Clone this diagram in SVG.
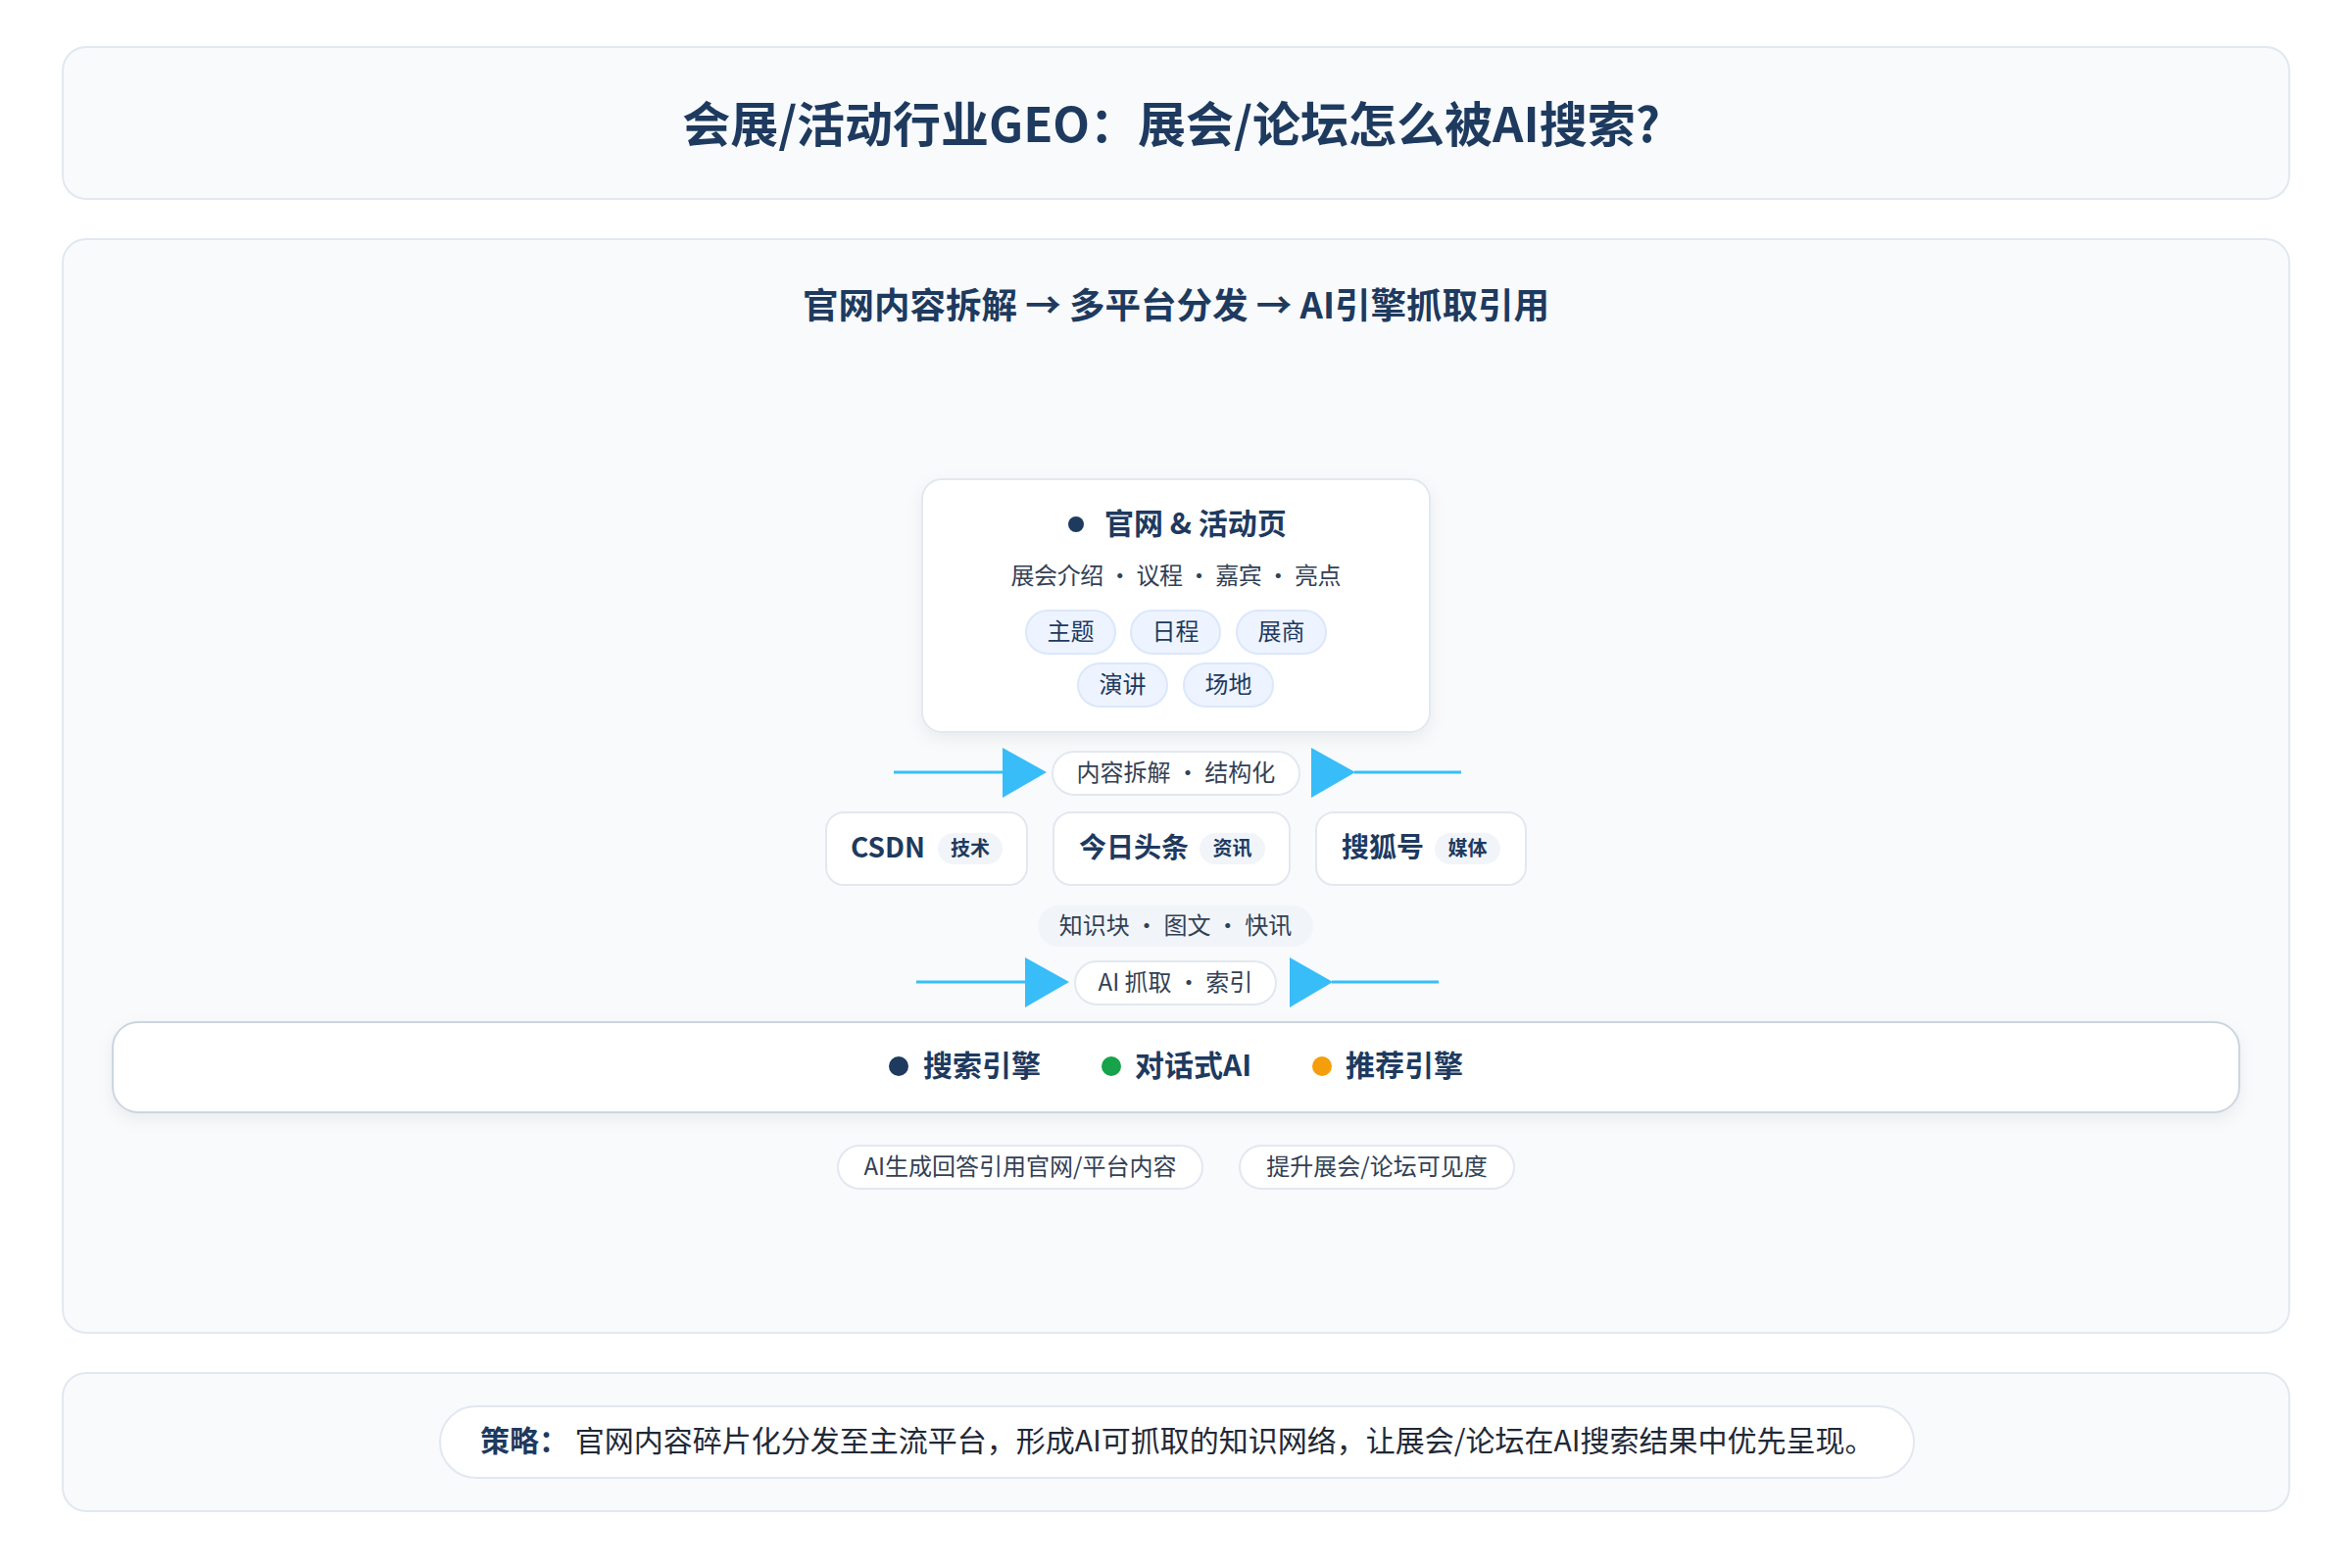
<svg xmlns="http://www.w3.org/2000/svg" width="2400" height="1600" viewBox="0 0 2400 1600">
<defs>
<style>
text{font-family:"Noto Sans CJK SC","Liberation Sans",sans-serif;dominant-baseline:central}
.panel{fill:#f8fafc;stroke:#e2e8f0;stroke-width:2}
.card{fill:#ffffff;stroke:#e2e8f0;stroke-width:2}
.navy{fill:#1e3a5f}
.h1{font-size:49px;font-weight:700;fill:#1e3a5f;text-anchor:middle}
.h2{font-size:36.5px;font-weight:700;fill:#1e3a5f;text-anchor:middle}
.nt{font-size:30px;font-weight:700;fill:#1e3a5f}
.sub{font-size:24px;fill:#334155;text-anchor:middle}
.tag{fill:#eef4ff;stroke:#dbe7fb;stroke-width:2}
.tagt{font-size:24px;fill:#1e3a5f;text-anchor:middle}
.plat{font-size:28px;font-weight:700;fill:#1e3a5f}
.badge{fill:#f1f5f9}
.badget{font-size:20px;font-weight:700;fill:#1e3a5f;text-anchor:middle}
.lbl{fill:#ffffff;stroke:#e2e8f0;stroke-width:2}
.conn line{stroke:#38bdf8;stroke-width:3}
.conn polygon{fill:#38bdf8}
</style>
<filter id="sh" x="-5%" y="-30%" width="110%" height="170%">
<feDropShadow dx="0" dy="6" stdDeviation="8" flood-color="#0f172a" flood-opacity="0.06"/>
</filter>
</defs>
<rect width="2400" height="1600" fill="#ffffff"/>

<g id="title">
<rect class="panel" x="64" y="48" width="2272" height="155" rx="24"/>
<text class="h1" x="1195" y="123">会展/活动行业GEO：展会/论坛怎么被AI搜索?</text>
</g>

<g id="main-panel">
<rect class="panel" x="64" y="244" width="2272" height="1116" rx="24"/>
<text class="h2" x="1200" y="309">官网内容拆解 → 多平台分发 → AI引擎抓取引用</text>
</g>

<g id="connectors" class="conn">
<line x1="912" y1="788" x2="1024" y2="788"/>
<polygon points="1023,763 1068,788 1023,814"/>
<polygon points="1338,763 1383,788 1338,814"/>
<line x1="1382" y1="788" x2="1491" y2="788"/>
<line x1="935" y1="1002" x2="1047" y2="1002"/>
<polygon points="1046,977 1091,1002 1046,1028"/>
<polygon points="1316,977 1360,1002 1316,1028"/>
<line x1="1359" y1="1002" x2="1468" y2="1002"/>
</g>

<g id="node-official">
<rect class="card" x="941" y="489" width="518" height="258" rx="20" filter="url(#sh)"/>
<circle class="navy" cx="1098" cy="535" r="8"/>
<text class="nt" x="1127" y="532">官网 &amp; 活动页</text>
<text class="sub" x="1200" y="585" textLength="337" lengthAdjust="spacing">展会介绍 · 议程 · 嘉宾 · 亮点</text>
<rect class="tag" x="1047" y="623" width="91" height="44" rx="22"/>
<text class="tagt" x="1092.5" y="642">主题</text>
<rect class="tag" x="1154" y="623" width="91" height="44" rx="22"/>
<text class="tagt" x="1199.5" y="642">日程</text>
<rect class="tag" x="1262" y="623" width="91" height="44" rx="22"/>
<text class="tagt" x="1307.5" y="642">展商</text>
<rect class="tag" x="1100" y="677" width="91" height="44" rx="22"/>
<text class="tagt" x="1145.5" y="696">演讲</text>
<rect class="tag" x="1208" y="677" width="91" height="44" rx="22"/>
<text class="tagt" x="1253.5" y="696">场地</text>
</g>

<g id="label-split">
<rect class="lbl" x="1074" y="767" width="252" height="44" rx="22"/>
<text class="sub" x="1200" y="786">内容拆解 · 结构化</text>
</g>

<g id="node-csdn">
<rect class="card" x="843" y="829" width="205" height="74" rx="18"/>
<text class="plat" x="868" y="863">CSDN</text>
<rect class="badge" x="957" y="850" width="66" height="32" rx="16"/>
<text class="badget" x="990" y="864">技术</text>
</g>

<g id="node-toutiao">
<rect class="card" x="1075" y="829" width="241" height="74" rx="18"/>
<text class="plat" x="1101" y="863">今日头条</text>
<rect class="badge" x="1224" y="850" width="67" height="32" rx="16"/>
<text class="badget" x="1257.5" y="864">资讯</text>
</g>

<g id="node-sohu">
<rect class="card" x="1343" y="829" width="214" height="74" rx="18"/>
<text class="plat" x="1369" y="863">搜狐号</text>
<rect class="badge" x="1464" y="850" width="67" height="32" rx="16"/>
<text class="badget" x="1497.5" y="864">媒体</text>
</g>

<g id="label-knowledge">
<rect class="badge" x="1059" y="924" width="281" height="42" rx="21"/>
<text class="sub" x="1199.5" y="942">知识块 · 图文 · 快讯</text>
</g>

<g id="label-crawl">
<rect class="lbl" x="1097" y="981" width="205" height="44" rx="22"/>
<text class="sub" x="1199.5" y="1000">AI 抓取 · 索引</text>
</g>

<g id="node-engines">
<rect x="115" y="1043" width="2170" height="92" rx="26" fill="#ffffff" stroke="#cbd5e1" stroke-width="2" filter="url(#sh)"/>
<circle cx="917" cy="1088" r="10" fill="#1e3a5f"/>
<text class="nt" x="942" y="1085">搜索引擎</text>
<circle cx="1134" cy="1088" r="10" fill="#16a34a"/>
<text class="nt" x="1158" y="1085">对话式AI</text>
<circle cx="1349" cy="1088" r="10" fill="#f59e0b"/>
<text class="nt" x="1373" y="1085">推荐引擎</text>
</g>

<g id="outcomes">
<rect class="lbl" x="855" y="1169" width="372" height="44" rx="22"/>
<text class="sub" x="1041" y="1188">AI生成回答引用官网/平台内容</text>
<rect class="lbl" x="1265" y="1169" width="280" height="44" rx="22"/>
<text class="sub" x="1405" y="1188">提升展会/论坛可见度</text>
</g>

<g id="strategy">
<rect class="panel" x="64" y="1401" width="2272" height="141" rx="24"/>
<rect class="lbl" x="449" y="1435" width="1504" height="73" rx="36.5"/>
<text x="490" y="1468" font-size="30" xml:space="preserve"><tspan font-weight="700" fill="#1e3a5f">策略：</tspan><tspan fill="#1f2937"> 官网内容碎片化分发至主流平台，形成AI可抓取的知识网络，让展会/论坛在AI搜索结果中优先呈现。</tspan></text>
</g>
</svg>
